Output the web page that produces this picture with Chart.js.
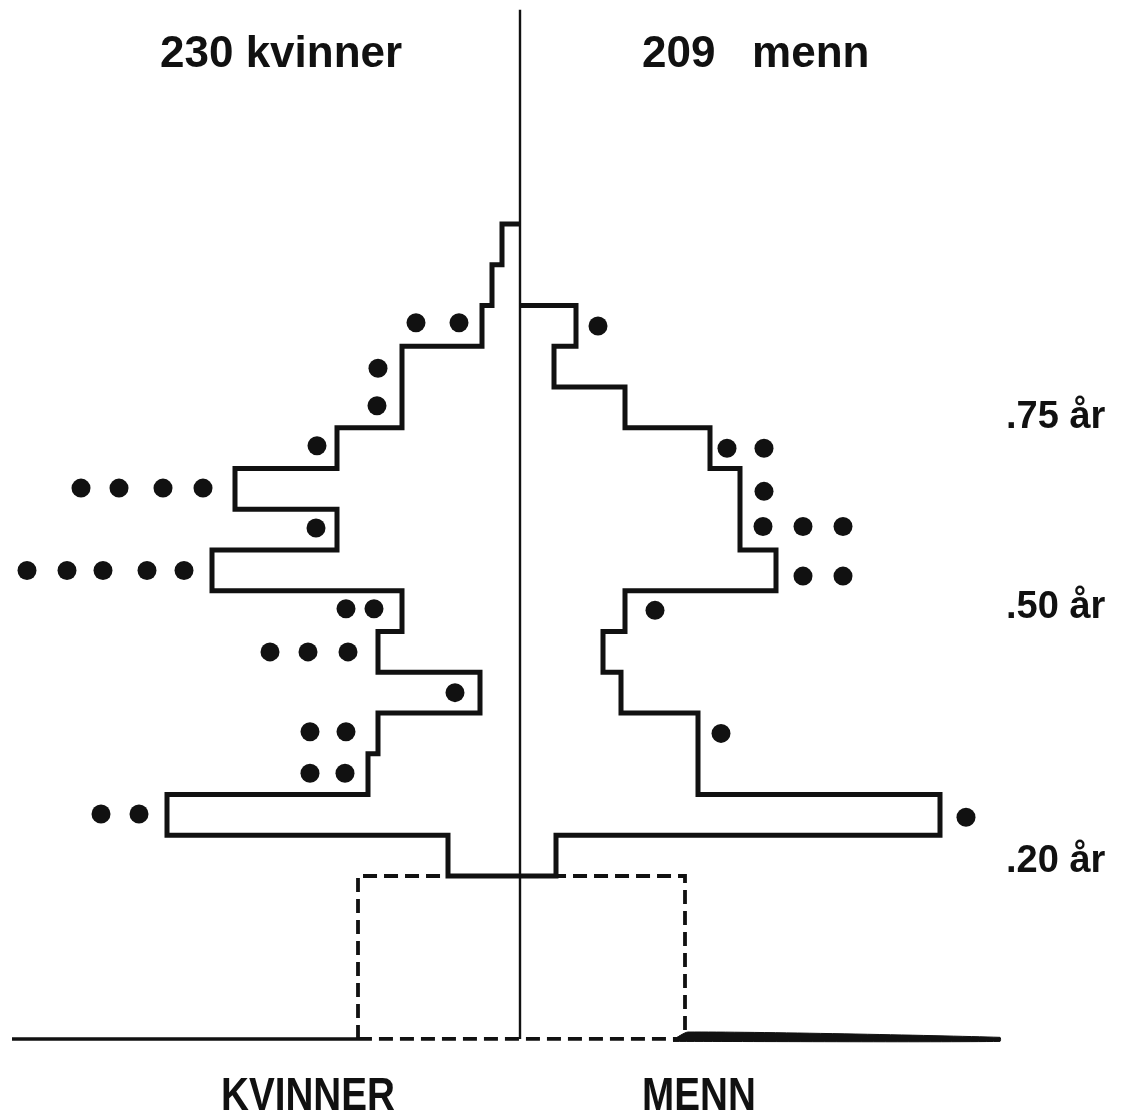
<!DOCTYPE html>
<html>
<head>
<meta charset="utf-8">
<script src="https://cdn.jsdelivr.net/npm/chart.js@4.4.1/dist/chart.umd.min.js"></script>
<style>
  html, body { margin: 0; padding: 0; background: #fff; }
  #wrap { width: 1130px; height: 1115px; position: relative; }
</style>
</head>
<body>
<div id="wrap"><canvas id="pyramid"></canvas></div>
<script>
// 5-års grupper, øverste gruppe først (antall personer)
const bandYears = 5;
const womenAgeTop = 100;
const womenCounts = [1.8, 2.8, 3.8, 11.8, 11.8, 18.3, 28.5, 18.3, 30.8, 11.8, 14.2, 4.0, 14.2, 15.2, 35.3, 7.2];
const menAgeTop = 90;
const menCounts = [5.6, 3.4, 10.5, 19.0, 22.0, 22.0, 25.6, 10.5, 8.3, 10.1, 17.8, 17.8, 42.0, 3.6];

// 0-20 år (stiplet boks)
const childAge = 20;
const childWomen = 16.2;
const childMen = 16.5;

// prikker: [antall, alder]
const womenDots = [
  [-10.4, 87.9], [-6.1, 87.9],
  [-14.2, 82.3],
  [-14.3, 77.7],
  [-20.3, 72.8],
  [-43.9, 67.6], [-40.1, 67.6], [-35.7, 67.6], [-31.7, 67.6],
  [-20.4, 62.7],
  [-49.3, 57.5], [-45.3, 57.5], [-41.7, 57.5], [-37.3, 57.5], [-33.6, 57.5],
  [-17.4, 52.8], [-14.6, 52.8],
  [-25.0, 47.5], [-21.2, 47.5], [-17.2, 47.5],
  [-6.5, 42.5],
  [-21.0, 37.7], [-17.4, 37.7],
  [-21.0, 32.6], [-17.5, 32.6],
  [-41.9, 27.6], [-38.1, 27.6]
];
const menDots = [
  [7.8, 87.5],
  [20.7, 72.5], [24.4, 72.5],
  [24.4, 67.2],
  [24.3, 62.9], [28.3, 62.9], [32.3, 62.9],
  [28.3, 56.8], [32.3, 56.8],
  [13.5, 52.6],
  [20.1, 37.5],
  [44.6, 27.2]
];

const ageLabels = ['.75 år', '.50 år', '.20 år'];
const ageLabelPos = [75, 51.7, 20.5];
const titles = ['230 kvinner', '209   menn'];
const bottomLabels = ['KVINNER', 'MENN'];

// grunnlinje
const baseLeft = [[-50.8, 0], [-childWomen, 0]];
const wedge = [[15.3, -0.1], [16.8, 0.85], [48.0, 0.2], [48.0, -0.3], [15.3, -0.3]];

function steps(top, counts, sign) {
  const pts = [{ x: 0, y: top }];
  counts.forEach((c, i) => {
    const hi = top - i * bandYears;
    pts.push({ x: sign * c, y: hi }, { x: sign * c, y: hi - bandYears });
  });
  pts.push({ x: 0, y: top - counts.length * bandYears });
  return pts;
}
const toPts = arr => arr.map(p => ({ x: p[0], y: p[1] }));

const ink = '#111';

const textPlugin = {
  id: 'texts',
  afterDraw(chart) {
    const { ctx, scales: { y } } = chart;
    ctx.save();
    ctx.fillStyle = ink;
    ctx.textBaseline = 'alphabetic';

    ctx.font = 'bold 44px "Liberation Sans", Arial, sans-serif';
    ctx.textAlign = 'left';
    ctx.fillText(titles[0], 160, 67);
    ctx.fillText(titles[1], 642, 67);

    ctx.font = 'bold 38px "Liberation Sans", Arial, sans-serif';
    ageLabels.forEach((t, i) => {
      ctx.fillText(t, 1006, y.getPixelForValue(ageLabelPos[i]));
    });

    ctx.font = 'bold 46px "Liberation Sans", Arial, sans-serif';
    ctx.textAlign = 'center';
    [[bottomLabels[0], 308], [bottomLabels[1], 699]].forEach(([t, cx]) => {
      ctx.save();
      ctx.translate(cx, 1110);
      ctx.scale(0.84, 1);
      ctx.fillText(t, 0, 0);
      ctx.restore();
    });
    ctx.restore();
  }
};

const outline = {
  showLine: true, pointRadius: 0, borderColor: ink, borderWidth: 5,
  borderJoinStyle: 'miter', tension: 0, fill: false
};

new Chart(document.getElementById('pyramid'), {
  type: 'scatter',
  data: {
    datasets: [
      { label: 'kvinner', data: steps(womenAgeTop, womenCounts, -1), ...outline },
      { label: 'menn', data: steps(menAgeTop, menCounts, 1), ...outline },
      {
        label: 'akse', data: [{ x: 0, y: 0 }, { x: 0, y: 126.3 }],
        showLine: true, pointRadius: 0, borderColor: ink, borderWidth: 2.4
      },
      {
        label: '0-20 år',
        data: [
          { x: -childWomen, y: 0 }, { x: -childWomen, y: childAge },
          { x: childMen, y: childAge }, { x: childMen, y: 0 }, { x: -childWomen, y: 0 }
        ],
        showLine: true, pointRadius: 0, borderColor: ink, borderWidth: 3.8,
        borderDash: [14, 7], borderJoinStyle: 'miter'
      },
      {
        label: 'grunnlinje', data: toPts(baseLeft),
        showLine: true, pointRadius: 0, borderColor: ink, borderWidth: 3.5
      },
      {
        label: 'kile', data: toPts(wedge),
        showLine: true, pointRadius: 0, borderColor: ink, borderWidth: 1,
        backgroundColor: ink, fill: 'shape', tension: 0.2
      },
      {
        label: 'prikker kvinner', data: toPts(womenDots),
        pointRadius: 9.5, pointBackgroundColor: ink, pointBorderWidth: 0
      },
      {
        label: 'prikker menn', data: toPts(menDots),
        pointRadius: 9.5, pointBackgroundColor: ink, pointBorderWidth: 0
      }
    ]
  },
  options: {
    responsive: true,
    maintainAspectRatio: false,
    animation: false,
    events: [],
    layout: { padding: 0, autoPadding: false },
    plugins: { legend: { display: false }, tooltip: { enabled: false } },
    scales: {
      x: { type: 'linear', min: -52, max: 61, display: false },
      y: { type: 'linear', min: -9.33, max: 127.5, display: false }
    }
  },
  plugins: [textPlugin]
});
</script>
</body>
</html>
